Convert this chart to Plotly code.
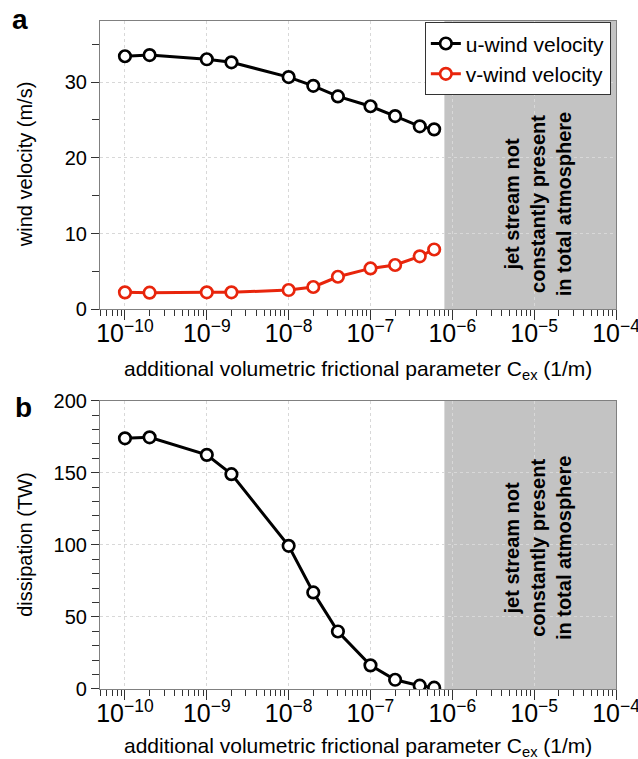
import plotly.graph_objects as go
from plotly.subplots import make_subplots

# ---- data ----
cex = [1e-10, 2e-10, 1e-9, 2e-9, 1e-8, 2e-8, 4e-8, 1e-7, 2e-7, 4e-7, 6e-7]
u_wind = [33.4, 33.55, 33.0, 32.6, 30.65, 29.5, 28.1, 26.8, 25.5, 24.15, 23.75]
v_wind = [2.24, 2.2, 2.25, 2.25, 2.55, 2.95, 4.3, 5.4, 5.85, 7.0, 7.9]
dissipation = [173.9, 174.6, 162.4, 149.0, 99.3, 67.0, 39.9, 16.4, 6.4, 2.3, 0.9]
shade_start = 8e-7
shade_end = 1e-4
shade_text = "jet stream not<br>constantly present<br>in total atmosphere"

FONT = "Liberation Sans, Arial, Helvetica, sans-serif"
W, H = 638, 759
ML, MR, MT, MB = 100, 22, 20.7, 69.7
PH = H - MT - MB

fig = make_subplots(rows=2, cols=1, vertical_spacing=(400.7 - 309.3) / PH)

def marker(color):
    return dict(symbol="circle", size=11.5, color="white", line=dict(color=color, width=2.7))

fig.add_trace(go.Scatter(x=cex, y=u_wind, mode="lines+markers", name="u-wind velocity",
                         line=dict(color="black", width=3), marker=marker("black")), row=1, col=1)
fig.add_trace(go.Scatter(x=cex, y=v_wind, mode="lines+markers", name="v-wind velocity",
                         line=dict(color="#e8250c", width=3), marker=marker("#e8250c")), row=1, col=1)
fig.add_trace(go.Scatter(x=cex, y=dissipation, mode="lines+markers", showlegend=False,
                         line=dict(color="black", width=3), marker=marker("black")), row=2, col=1)

xcommon = dict(type="log", range=[-10.305, -4], dtick=1, exponentformat="power", showexponent="all",
               ticks="outside", ticklen=10, tickwidth=1, tickcolor="#333", ticklabelstandoff=-7,
               ticklabeloverflow="allow", automargin=False,
               minor=dict(ticks="outside", ticklen=6, tickcolor="#333", dtick="D1", showgrid=False),
               showline=True, mirror=True, linecolor="#808080", linewidth=1.2,
               showgrid=True, gridcolor="#d8d8d8", griddash="dot", gridwidth=1,
               tickfont=dict(size=20, color="black", family=FONT), zeroline=False)
fig.update_xaxes(**xcommon)

ycommon = dict(ticks="outside", ticklen=8, tickwidth=1, tickcolor="#333", automargin=False,
               showline=True, mirror=True, linecolor="#808080", linewidth=1.2,
               showgrid=True, gridcolor="#d8d8d8", griddash="dot", gridwidth=1,
               tickfont=dict(size=20, color="black", family=FONT), zeroline=False)
fig.update_yaxes(**ycommon)
fig.update_yaxes(range=[0, 38.05], dtick=10, tick0=0,
                 minor=dict(ticks="outside", ticklen=7, tickcolor="#333", dtick=5, tick0=0, showgrid=False),
                 row=1, col=1)
fig.update_yaxes(range=[0, 200], dtick=50, tick0=0,
                 minor=dict(ticks="outside", ticklen=7, tickcolor="#333", dtick=10, tick0=0, showgrid=False),
                 row=2, col=1)

for xr, yr in [("x", "y domain"), ("x2", "y2 domain")]:
    fig.add_shape(type="rect", xref=xr, yref=yr, x0=shade_start, x1=shade_end, y0=0, y1=1,
                  fillcolor="#c3c3c3", line=dict(width=0), layer="below")

ann = []
ann.append(dict(x=-4.95, y=13.9, xref="x", yref="y", text="<b>" + shade_text + "</b>",
                textangle=-90, showarrow=False, font=dict(size=20, color="black", family=FONT)))
ann.append(dict(x=-4.95, y=97.9, xref="x2", yref="y2", text="<b>" + shade_text + "</b>",
                textangle=-90, showarrow=False, font=dict(size=20, color="black", family=FONT)))

top_a_bottom = 1 - (309.3 - MT) / PH
xtitle = "additional volumetric frictional parameter C<sub>ex</sub> (1/m)"
ann.append(dict(x=0.5, y=top_a_bottom, xref="paper", yref="paper", yshift=-61, yanchor="middle",
                text=xtitle, showarrow=False, font=dict(size=21, color="black", family=FONT)))
ann.append(dict(x=0.5, y=0, xref="paper", yref="paper", yshift=-58, yanchor="middle",
                text=xtitle, showarrow=False, font=dict(size=21, color="black", family=FONT)))

mid_a = 1 - ((309.3 + 20.7) / 2 - MT) / PH
mid_b = 1 - ((689.3 + 400.7) / 2 - MT) / PH
ann.append(dict(x=0, y=mid_a, xref="paper", yref="paper", xshift=-75, xanchor="center", yanchor="middle",
                text="wind velocity (m/s)", textangle=-90, showarrow=False,
                font=dict(size=20, color="black", family=FONT)))
ann.append(dict(x=0, y=mid_b, xref="paper", yref="paper", xshift=-75, xanchor="center", yanchor="middle",
                text="dissipation (TW)", textangle=-90, showarrow=False,
                font=dict(size=20, color="black", family=FONT)))

ann.append(dict(x=0, y=1, xref="paper", yref="paper", xshift=-80, yshift=2, xanchor="center", yanchor="middle",
                text="<b>a</b>", showarrow=False, font=dict(size=28, color="black", family=FONT)))
top_b = 1 - (400.7 - MT) / PH
ann.append(dict(x=0, y=top_b, xref="paper", yref="paper", xshift=-77, yshift=-7, xanchor="center", yanchor="middle",
                text="<b>b</b>", showarrow=False, font=dict(size=28, color="black", family=FONT)))

fig.update_layout(
    width=W, height=H,
    margin=dict(l=ML, r=MR, t=MT, b=MB, pad=0, autoexpand=False),
    paper_bgcolor="white", plot_bgcolor="white",
    font=dict(family=FONT, size=20, color="black"),
    annotations=ann,
    legend=dict(x=0.99, y=0.998, xanchor="right", yanchor="top",
                bgcolor="white", bordercolor="#333", borderwidth=1,
                font=dict(size=21, color="black", family=FONT),
                itemwidth=30, tracegroupgap=0),
)

fig.write_html("out.html", config={"displayModeBar": False},
               post_script="document.body.style.margin='0';document.body.style.padding='0';")
